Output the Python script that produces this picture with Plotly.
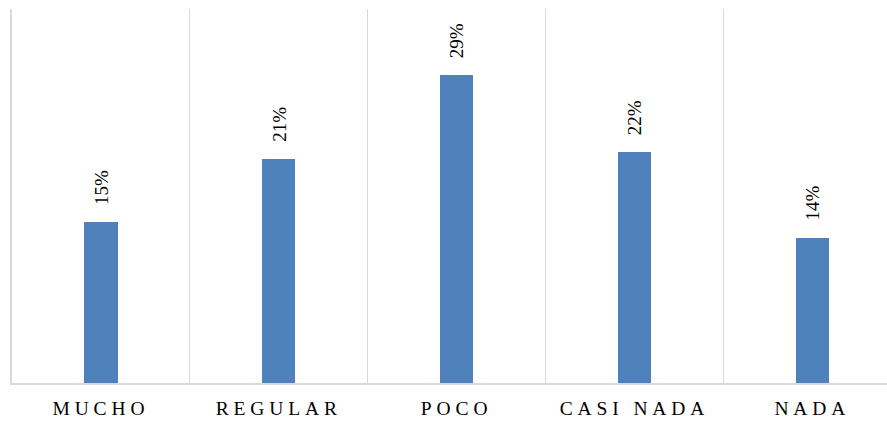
import plotly.graph_objects as go

categories = ["MUCHO", "REGULAR", "POCO", "CASI NADA", "NADA"]
tick_labels = ["M U C H O ", "R E G U L A R ", "P O C O ", "C A S I   N A D A ", "N A D A "]
values = [0.151, 0.210, 0.288, 0.216, 0.136]

NB = "\u00a0"
ticktext = [t.replace(" ", NB) for t in tick_labels]

fig = go.Figure()
fig.add_trace(go.Bar(
    x=categories, y=values, width=0.187,
    marker=dict(color="#4f81bd", line=dict(width=0)),
    hoverinfo="skip",
))

for c, v in zip(categories, values):
    fig.add_annotation(
        x=c, y=v, text=f"{round(v*100):d}%", showarrow=False,
        textangle=-90, yanchor="bottom", xanchor="center", yshift=15,
        font=dict(family="Liberation Serif", size=19, color="#000000"),
    )

fig.update_layout(
    width=887, height=421,
    margin=dict(l=12, r=0, t=9, b=38),
    paper_bgcolor="white", plot_bgcolor="white",
    showlegend=False,
    bargap=0,
    font=dict(family="Liberation Serif", size=19, color="#000000"),
)
fig.update_xaxes(
    type="category", range=[-0.5, 4.42],
    tickmode="array", tickvals=categories, ticktext=ticktext,
    tickson="boundaries", ticks="", showgrid=True,
    gridcolor="#d9d9d9", gridwidth=1.3,
    showline=True, linecolor="#d9d9d9", linewidth=1.5,
    ticklabelstandoff=7,
    tickfont=dict(family="Liberation Serif", size=19.5, color="#000000"),
    fixedrange=True,
)
fig.update_yaxes(
    range=[0, 0.35], showgrid=False, showticklabels=False,
    zeroline=False, showline=True, linecolor="#d9d9d9", linewidth=1.5,
    fixedrange=True,
)

fig.write_html("out.html")
